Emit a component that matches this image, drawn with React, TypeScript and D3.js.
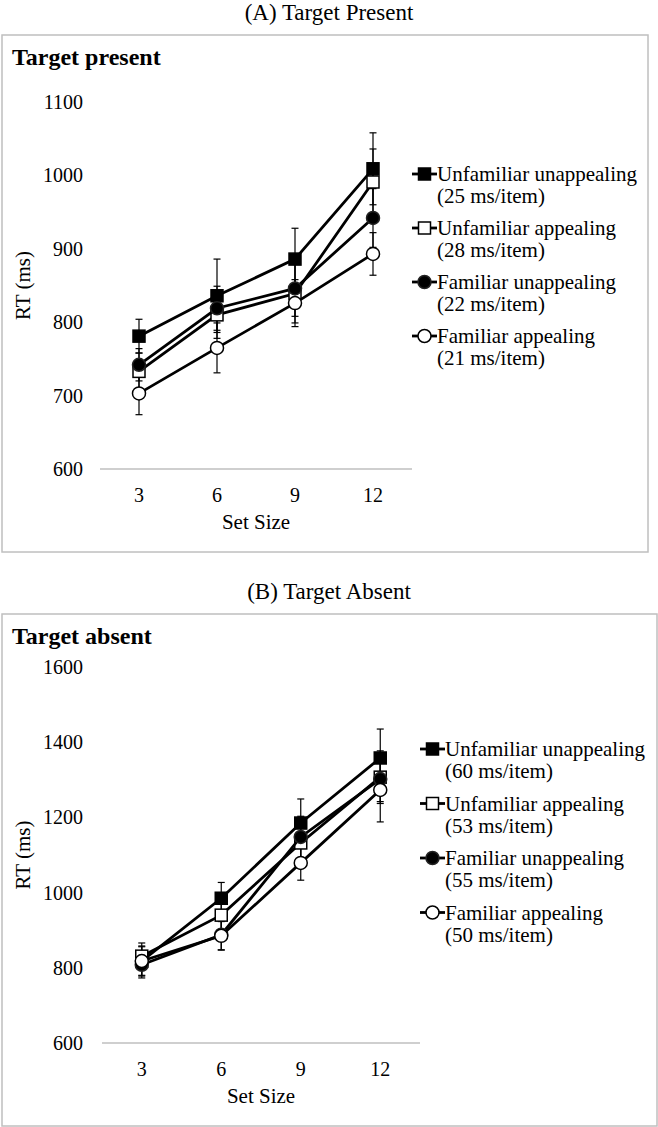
import * as d3 from "d3";

// set sizes on the x axis
const setSizes = [3, 6, 9, 12];
const seriesNames = [
  "Unfamiliar unappealing",
  "Unfamiliar appealing",
  "Familiar unappealing",
  "Familiar appealing",
];
const markerKinds = ["squareFilled", "squareOpen", "circleFilled", "circleOpen"];

// (A) target present, mean RT and error
const presentSlopes = ["(25 ms/item)", "(28 ms/item)", "(22 ms/item)", "(21 ms/item)"];
const presentUU = [781, 836, 886, 1009];
const presentUUErr = [23, 50, 42, 49];
const presentUA = [733, 810, 839, 991];
const presentUAErr = [25, 32, 40, 45];
const presentFU = [742, 819, 846, 942];
const presentFUErr = [22, 30, 38, 40];
const presentFA = [703, 765, 826, 893];
const presentFAErr = [29, 34, 32, 29];
const presentTicks = [600, 700, 800, 900, 1000, 1100];

// (B) target absent
const absentSlopes = ["(60 ms/item)", "(53 ms/item)", "(55 ms/item)", "(50 ms/item)"];
const absentUU = [818, 985, 1185, 1358];
const absentUUErr = [40, 42, 64, 77];
const absentUA = [831, 940, 1132, 1307];
const absentUAErr = [35, 45, 60, 70];
const absentFU = [808, 888, 1148, 1302];
const absentFUErr = [35, 40, 55, 60];
const absentFA = [818, 885, 1079, 1273];
const absentFAErr = [38, 38, 46, 85];
const absentTicks = [600, 800, 1000, 1200, 1400, 1600];

const FONT = "Liberation Serif, Times New Roman, Times, DejaVu Serif, serif";
const GRID = "#bfbfbf";

function Marker({ kind, x, y }: { kind: string; x: number; y: number }) {
  const filled = kind.endsWith("Filled");
  const fill = filled ? "#000" : "#fff";
  if (kind.startsWith("square")) {
    return <rect x={x - 6} y={y - 6} width={12} height={12} fill={fill} stroke="#000" strokeWidth={1.5} />;
  }
  return <circle cx={x} cy={y} r={6.5} fill={fill} stroke={filled ? "#222" : "#000"} strokeWidth={1.5} />;
}

interface PanelProps {
  heading: string;
  sub: string;
  boxTop: number;
  boxBottom: number;
  boxRight: number;
  xRange: [number, number];
  yDomain: [number, number];
  yRange: [number, number];
  ticks: number[];
  values: number[][];
  errors: number[][];
  slopes: string[];
  legendX: number;
  legendY: number;
  legendStep: number;
}

function Panel(p: PanelProps) {
  const x = d3.scaleBand<number>().domain(setSizes).range(p.xRange).paddingInner(0);
  const y = d3.scaleLinear().domain(p.yDomain).range(p.yRange);
  const cx = (s: number) => x(s)! + x.bandwidth() / 2;
  const line = d3
    .line<number>()
    .x((_, i) => cx(setSizes[i]))
    .y((d) => y(d));
  const axisY = y(p.yDomain[0]);

  return (
    <g style={{ fontFamily: FONT }}>
      <text x={329} y={p.boxTop - 23} textAnchor="middle" dy="0.35em" fontSize={23}>
        {p.heading}
      </text>
      <rect x={2} y={p.boxTop} width={p.boxRight - 2} height={p.boxBottom - p.boxTop} fill="#fff" stroke={GRID} strokeWidth={1.5} />
      <text x={12} y={p.boxTop + 22} dy="0.35em" fontSize={24} fontWeight="bold">
        {p.sub}
      </text>

      {p.ticks.map((t) => (
        <text key={t} x={83} y={y(t)} dy="0.35em" textAnchor="end" fontSize={20}>
          {t}
        </text>
      ))}
      <line x1={p.xRange[0]} x2={p.xRange[1]} y1={axisY} y2={axisY} stroke={GRID} strokeWidth={1.5} />
      {setSizes.map((s) => (
        <text key={s} x={cx(s)} y={axisY + 26} dy="0.35em" textAnchor="middle" fontSize={20}>
          {s}
        </text>
      ))}
      <text x={(p.xRange[0] + p.xRange[1]) / 2} y={axisY + 53} dy="0.35em" textAnchor="middle" fontSize={21}>
        Set Size
      </text>
      <text
        transform={`translate(23,${(p.yRange[0] + p.yRange[1]) / 2}) rotate(-90)`}
        dy="0.35em"
        textAnchor="middle"
        fontSize={21}
      >
        RT (ms)
      </text>

      {/* error bars */}
      {p.values.map((vals, si) =>
        vals.map((v, i) => {
          const e = p.errors[si][i];
          const xx = cx(setSizes[i]);
          return (
            <g key={`e${si}-${i}`} stroke="#000" strokeWidth={1.2}>
              <line x1={xx} x2={xx} y1={y(v - e)} y2={y(v + e)} />
              <line x1={xx - 3.5} x2={xx + 3.5} y1={y(v + e)} y2={y(v + e)} />
              <line x1={xx - 3.5} x2={xx + 3.5} y1={y(v - e)} y2={y(v - e)} />
            </g>
          );
        })
      )}

      {p.values.map((vals, si) => (
        <g key={`s${si}`}>
          <path d={line(vals) ?? ""} fill="none" stroke="#000" strokeWidth={2.8} />
          {vals.map((v, i) => (
            <Marker key={i} kind={markerKinds[si]} x={cx(setSizes[i])} y={y(v)} />
          ))}
        </g>
      ))}

      {seriesNames.map((name, si) => {
        const ly = p.legendY + si * p.legendStep;
        return (
          <g key={name}>
            <line x1={p.legendX} x2={p.legendX + 25} y1={ly} y2={ly} stroke="#000" strokeWidth={2.8} />
            <Marker kind={markerKinds[si]} x={p.legendX + 12.5} y={ly} />
            <text x={p.legendX + 25} y={ly} dy="0.35em" fontSize={21}>
              {name}
            </text>
            <text x={p.legendX + 25} y={ly + 22} dy="0.35em" fontSize={21}>
              {p.slopes[si]}
            </text>
          </g>
        );
      })}
    </g>
  );
}

export default function App() {
  return (
    <svg
      width={658}
      height={1127}
      viewBox="0 0 658 1127"
      style={{ position: "absolute", left: 0, top: 0, background: "#fff" }}
    >
      <Panel
        heading="(A) Target Present"
        sub="Target present"
        boxTop={35}
        boxBottom={552}
        boxRight={648}
        xRange={[100, 412]}
        yDomain={[600, 1100]}
        yRange={[469, 102]}
        ticks={presentTicks}
        values={[presentUU, presentUA, presentFU, presentFA]}
        errors={[presentUUErr, presentUAErr, presentFUErr, presentFAErr]}
        slopes={presentSlopes}
        legendX={412}
        legendY={174}
        legendStep={54}
      />
      <Panel
        heading="(B) Target Absent"
        sub="Target absent"
        boxTop={614}
        boxBottom={1126}
        boxRight={657}
        xRange={[102, 420]}
        yDomain={[600, 1600]}
        yRange={[1043, 667]}
        ticks={absentTicks}
        values={[absentUU, absentUA, absentFU, absentFA]}
        errors={[absentUUErr, absentUAErr, absentFUErr, absentFAErr]}
        slopes={absentSlopes}
        legendX={420}
        legendY={749}
        legendStep={54.5}
      />
    </svg>
  );
}
